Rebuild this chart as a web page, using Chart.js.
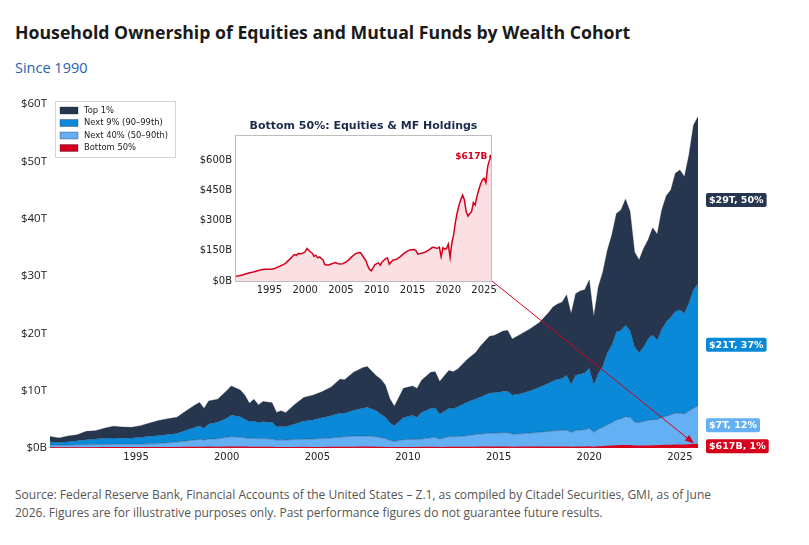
<!DOCTYPE html>
<html>
<head>
<meta charset="utf-8">
<script src="https://cdn.jsdelivr.net/npm/chart.js@4.4.1/dist/chart.umd.min.js"></script>
<style>
  body { margin: 0; background: #fff; width: 809px; height: 545px; overflow: hidden; position: relative; font-family: "Open Sans", sans-serif; }
  #title { position: absolute; left: 15px; top: 20px; font-size: 17.7px; font-weight: 700; color: #1a1a1a; white-space: nowrap; }
  #sub { position: absolute; left: 15px; top: 58px; font-size: 14.5px; color: #1f63ad; }
  #main { position: absolute; left: 0; top: 90px; }
  #inset { position: absolute; left: 190px; top: 110px; }
  #foot { position: absolute; left: 15px; top: 486px; font-size: 12px; line-height: 18px; color: #555; white-space: nowrap; }
</style>
</head>
<body>
<div id="title">Household Ownership of Equities and Mutual Funds by Wealth Cohort</div>
<div id="sub">Since 1990</div>
<canvas id="main" width="809" height="380"></canvas>
<canvas id="inset" width="310" height="189"></canvas>
<div id="foot">Source: Federal Reserve Bank, Financial Accounts of the United States – Z.1, as compiled by Citadel Securities, GMI, as of June<br>2026. Figures are for illustrative purposes only. Past performance figures do not guarantee future results.</div>
<script>
// quarter-end dates as decimal years
const dates = [
  1990.25, 1990.75, 1991.25, 1991.75, 1992.25, 1992.75, 1993.25, 1993.75, 1994.25, 1994.75,
  1995.25, 1995.75, 1996.25, 1996.75, 1997.25, 1997.75, 1998.25, 1998.5, 1998.75, 1999.0,
  1999.5, 2000.0, 2000.25, 2000.75, 2001.0, 2001.25, 2001.5, 2001.75, 2002.0, 2002.5,
  2002.75, 2003.0, 2003.25, 2003.75, 2004.25, 2004.75, 2005.25, 2005.75, 2006.25, 2006.5,
  2007.0, 2007.5, 2007.75, 2008.25, 2008.5, 2008.75, 2009.0, 2009.25, 2009.75, 2010.25,
  2010.5, 2010.75, 2011.25, 2011.5, 2011.75, 2012.25, 2012.5, 2012.75, 2013.25, 2013.75,
  2014.0, 2014.5, 2014.75, 2015.25, 2015.5, 2015.75, 2016.25, 2016.75, 2017.25, 2017.75,
  2018.0, 2018.25, 2018.5, 2018.75, 2019.0, 2019.25, 2019.5, 2019.75, 2020.0, 2020.25,
  2020.5, 2020.75, 2021.0, 2021.25, 2021.5, 2021.75, 2022.0, 2022.25, 2022.5, 2022.75,
  2023.0, 2023.25, 2023.5, 2023.75, 2024.0, 2024.25, 2024.5, 2024.75, 2025.0, 2025.25,
  2025.5, 2025.75, 2026.0
];

// $ trillions
const top1 = [
  0.90, 0.80, 1.00, 1.02, 1.45, 1.45, 1.77, 2.06, 1.93, 1.86,
  2.02, 2.30, 2.60, 2.75, 2.80, 3.35, 3.90, 4.10, 3.47, 4.00,
  4.00, 4.80, 5.04, 4.64, 4.20, 3.20, 3.80, 3.10, 3.50, 3.40,
  2.50, 2.75, 2.46, 3.40, 4.10, 4.30, 4.50, 5.00, 5.90, 5.85,
  6.60, 7.05, 7.10, 6.10, 6.10, 5.60, 4.20, 3.40, 5.10, 5.10,
  5.05, 5.60, 6.30, 6.30, 5.70, 6.60, 6.40, 6.60, 7.40, 8.10,
  8.90, 9.90, 9.95, 10.55, 10.60, 9.76, 10.40, 10.80, 11.30, 12.30,
  12.90, 13.10, 13.30, 14.00, 12.30, 14.20, 14.50, 14.50, 15.40, 11.90,
  15.10, 16.40, 17.90, 19.20, 20.60, 21.00, 22.00, 20.80, 16.60, 16.20,
  17.20, 17.20, 18.70, 18.50, 20.80, 22.00, 22.20, 24.10, 24.40, 23.80,
  25.80, 28.70, 29.10
];
const next9 = [
  0.60, 0.48, 0.58, 0.73, 0.88, 0.95, 1.06, 1.09, 1.07, 1.08,
  1.20, 1.33, 1.40, 1.45, 1.50, 1.90, 2.20, 2.35, 2.01, 2.65,
  2.87, 3.35, 3.79, 3.56, 3.20, 2.92, 3.00, 2.80, 2.95, 2.95,
  2.30, 2.33, 2.30, 2.72, 3.18, 3.32, 3.65, 3.86, 4.20, 4.10,
  4.55, 4.85, 5.00, 4.55, 4.10, 3.75, 3.05, 2.74, 3.85, 4.20,
  3.87, 4.65, 5.10, 5.14, 4.33, 4.95, 4.95, 5.20, 5.85, 6.25,
  6.45, 7.05, 7.05, 7.17, 7.22, 6.80, 7.00, 7.40, 7.85, 8.40,
  8.70, 8.98, 9.02, 9.56, 8.35, 9.65, 9.75, 9.90, 10.47, 8.25,
  9.75, 10.70, 12.55, 13.55, 15.40, 15.40, 15.94, 15.15, 13.05, 12.20,
  12.95, 14.25, 14.75, 13.85, 15.40, 16.45, 17.00, 17.75, 18.00, 17.55,
  18.85, 20.65, 21.37
];
const next40 = [
  0.48, 0.44, 0.49, 0.51, 0.53, 0.56, 0.57, 0.60, 0.59, 0.60,
  0.62, 0.66, 0.73, 0.82, 0.96, 1.10, 1.28, 1.37, 1.29, 1.41,
  1.50, 1.71, 1.81, 1.76, 1.66, 1.56, 1.57, 1.49, 1.53, 1.45,
  1.32, 1.34, 1.32, 1.39, 1.43, 1.50, 1.56, 1.65, 1.79, 1.83,
  1.92, 1.96, 1.96, 1.84, 1.70, 1.58, 1.29, 1.11, 1.37, 1.41,
  1.40, 1.46, 1.69, 1.75, 1.49, 1.85, 1.85, 1.89, 2.03, 2.22,
  2.31, 2.40, 2.45, 2.52, 2.53, 2.31, 2.36, 2.46, 2.60, 2.73,
  2.83, 2.86, 2.92, 2.97, 2.63, 2.89, 2.99, 3.04, 3.25, 2.63,
  3.06, 3.37, 3.76, 4.11, 4.52, 4.70, 5.03, 4.95, 4.21, 4.08,
  4.32, 4.51, 4.56, 4.57, 4.88, 5.10, 5.32, 5.55, 5.59, 5.46,
  5.88, 6.35, 6.71
];
// $ billions
const bottom50 = [
  23, 26, 30, 36, 41, 45, 50, 55, 58, 58,
  58, 62, 70, 78, 88, 105, 123, 132, 126, 136,
  135, 145, 161, 144, 138, 122, 128, 115, 120, 105,
  82, 80, 80, 86, 92, 84, 86, 95, 110, 120,
  135, 141, 140, 113, 100, 75, 57, 50, 82, 90,
  78, 95, 111, 114, 83, 103, 105, 108, 120, 135,
  142, 152, 155, 156, 150, 133, 138, 143, 153, 166,
  168, 164, 163, 168, 120, 165, 158, 161, 183, 117,
  190, 230, 294, 340, 377, 405, 427, 402, 344, 322,
  335, 344, 389, 377, 420, 452, 480, 502, 510, 488,
  568, 600, 617
];

const cohorts = ["Top 1%", "Next 9% (90–99th)", "Next 40% (50–90th)", "Bottom 50%"];
const xTickYears = [1995, 2000, 2005, 2010, 2015, 2020, 2025];
const yTicksMain = [0, 10, 20, 30, 40, 50, 60];
const yTicksInset = [0, 150, 300, 450, 600];

const RED = "#d6001c", NAVY = "#26364f", BLUE = "#0b89d9", LIGHT = "#63b0f4";
const EDGE = "rgba(25,35,55,0.55)";
const last = dates.length - 1;

Chart.defaults.font.family = "DejaVu Sans";
Chart.defaults.color = "#222";

const pts = (arr, k) => dates.map((d, i) => ({ x: d, y: arr[i] * k }));
const setTicks = vals => scale => { scale.ticks = vals.map(v => ({ value: v })); };
const noGrid = { display: false, drawTicks: false };

// ---------- inset ----------
const insetPlugin = {
  id: "insetDeco",
  afterDraw(chart) {
    const { ctx, chartArea: a } = chart;
    ctx.save();
    ctx.strokeStyle = "#bdbdbd";
    ctx.lineWidth = 1;
    ctx.strokeRect(a.left + 0.5, a.top + 0.5, a.right - a.left - 1, a.bottom - a.top);
    ctx.fillStyle = "#1c2b4a";
    ctx.font = "bold 11px 'DejaVu Sans'";
    ctx.textAlign = "center";
    ctx.textBaseline = "alphabetic";
    ctx.fillText("Bottom 50%: Equities & MF Holdings", (a.left + a.right) / 2, a.top - 6);
    const m = chart.getDatasetMeta(0).data[last];
    ctx.fillStyle = RED;
    ctx.font = "bold 9px 'DejaVu Sans'";
    ctx.textAlign = "right";
    ctx.textBaseline = "middle";
    ctx.fillText("$" + bottom50[last] + "B", m.x - 4, m.y);
    ctx.restore();
  }
};

const insetChart = new Chart(document.getElementById("inset"), {
  type: "line",
  data: {
    datasets: [{
      data: pts(bottom50, 1),
      borderColor: RED,
      borderWidth: 1.5,
      fill: "origin",
      backgroundColor: "rgba(214,0,28,0.12)",
      pointRadius: c => c.dataIndex === last ? 2.2 : 0,
      pointBackgroundColor: RED,
      pointBorderWidth: 0,
      tension: 0
    }]
  },
  options: {
    responsive: false,
    animation: false,
    layout: { padding: { top: 25, right: 6, left: 0, bottom: 0 } },
    plugins: { legend: { display: false }, tooltip: { enabled: false } },
    scales: {
      x: {
        type: "linear", min: 1990.2, max: 2026.1,
        afterBuildTicks: setTicks(xTickYears),
        afterFit: s => { s.height = 18; },
        grid: noGrid, border: { display: false },
        ticks: { callback: v => String(v), font: { size: 10 }, padding: 3, maxRotation: 0 }
      },
      y: {
        min: 0, max: 725,
        afterBuildTicks: setTicks(yTicksInset),
        afterFit: s => { s.width = 45; },
        grid: noGrid, border: { display: false },
        ticks: { callback: v => "$" + v + "B", font: { size: 10 }, padding: 3 }
      }
    }
  },
  plugins: [insetPlugin]
});

// ---------- main ----------
const legendColors = [NAVY, BLUE, LIGHT, RED];

const mainPlugin = {
  id: "mainDeco",
  afterDraw(chart) {
    const { ctx, chartArea: a, scales } = chart;
    ctx.save();

    // legend
    const lx = a.left + 5, ly = a.top - 3;
    ctx.fillStyle = "rgba(255,255,255,0.92)";
    ctx.fillRect(lx, ly, 120, 56);
    ctx.strokeStyle = "#d4d4d4";
    ctx.lineWidth = 1;
    ctx.strokeRect(lx + 0.5, ly + 0.5, 120, 56);
    ctx.font = "8.4px 'DejaVu Sans'";
    ctx.textBaseline = "middle";
    cohorts.forEach((name, i) => {
      const cy = ly + 9.5 + i * 12.5;
      ctx.fillStyle = legendColors[i];
      ctx.fillRect(lx + 5, cy - 3.5, 18, 7);
      ctx.strokeStyle = EDGE;
      ctx.lineWidth = 0.6;
      ctx.strokeRect(lx + 5, cy - 3.5, 18, 7);
      ctx.fillStyle = "#222";
      ctx.fillText(name, lx + 29, cy);
    });

    // end labels
    const ds = chart.data.datasets;
    const vals = ds.map(d => d.data[last].y);
    const total = vals.reduce((s, v) => s + v, 0);
    const tagColors = [RED, LIGHT, BLUE, NAVY];
    let lo = 0;
    ctx.font = "bold 9.5px 'DejaVu Sans'";
    vals.forEach((v, i) => {
      const mid = scales.y.getPixelForValue(lo + v / 2);
      lo += v;
      const txt = (v >= 1 ? "$" + Math.round(v) + "T" : "$" + Math.round(v * 1000) + "B") +
                  ", " + Math.round(v / total * 100) + "%";
      const w = ctx.measureText(txt).width + 6;
      const bx = a.right + 8, by = mid - 7;
      ctx.fillStyle = tagColors[i];
      ctx.beginPath();
      ctx.roundRect(bx, by, w, 14, 2);
      ctx.fill();
      ctx.fillStyle = "#fff";
      ctx.textAlign = "left";
      ctx.fillText(txt, bx + 3, mid + 0.5);
    });

    // arrow from inset corner to the bottom-50 band
    const mr = chart.canvas.getBoundingClientRect();
    const ir = insetChart.canvas.getBoundingClientRect();
    const ia = insetChart.chartArea;
    const sx = ia.right + ir.left - mr.left, sy = ia.bottom + ir.top - mr.top;
    const ex = scales.x.getPixelForValue(dates[last]) - 4;
    const ey = scales.y.getPixelForValue(bottom50[last] / 1000) - 1;
    const ang = Math.atan2(ey - sy, ex - sx);
    ctx.strokeStyle = RED;
    ctx.fillStyle = RED;
    ctx.lineWidth = 1;
    ctx.beginPath();
    ctx.moveTo(sx, sy);
    ctx.lineTo(ex - 7 * Math.cos(ang), ey - 7 * Math.sin(ang));
    ctx.stroke();
    ctx.beginPath();
    ctx.moveTo(ex, ey);
    ctx.lineTo(ex - 9 * Math.cos(ang) + 3.5 * Math.sin(ang), ey - 9 * Math.sin(ang) - 3.5 * Math.cos(ang));
    ctx.lineTo(ex - 9 * Math.cos(ang) - 3.5 * Math.sin(ang), ey - 9 * Math.sin(ang) + 3.5 * Math.cos(ang));
    ctx.closePath();
    ctx.fill();
    ctx.restore();
  }
};

const area = (label, arr, k, color, fill) => ({
  label,
  data: pts(arr, k),
  fill,
  backgroundColor: color,
  borderColor: label === "Bottom 50%" ? RED : EDGE,
  borderWidth: label === "Bottom 50%" ? 1.2 : 0.6,
  pointRadius: 0,
  tension: 0
});

new Chart(document.getElementById("main"), {
  type: "line",
  data: {
    datasets: [
      area("Bottom 50%", bottom50, 0.001, RED, "origin"),
      area("Next 40% (50–90th)", next40, 1, LIGHT, "-1"),
      area("Next 9% (90–99th)", next9, 1, BLUE, "-1"),
      area("Top 1%", top1, 1, NAVY, "-1")
    ]
  },
  options: {
    responsive: false,
    animation: false,
    layout: { padding: { top: 14, right: 111, left: 0, bottom: 0 } },
    plugins: { legend: { display: false }, tooltip: { enabled: false } },
    scales: {
      x: {
        type: "linear", min: dates[0], max: dates[last],
        afterBuildTicks: setTicks(xTickYears),
        afterFit: s => { s.height = 22; },
        grid: noGrid, border: { display: false },
        ticks: { callback: v => String(v), font: { size: 10 }, padding: 3, maxRotation: 0 }
      },
      y: {
        stacked: true, min: 0, max: 60,
        afterBuildTicks: setTicks(yTicksMain),
        afterFit: s => { s.width = 50; },
        grid: noGrid, border: { display: false },
        ticks: {
          callback: v => v === 0 ? "$0B" : "$" + v + "T",
          font: { family: "'Open Sans'", size: 11.5 }, color: "#222", padding: 3
        }
      }
    }
  },
  plugins: [mainPlugin]
});
</script>
</body>
</html>
